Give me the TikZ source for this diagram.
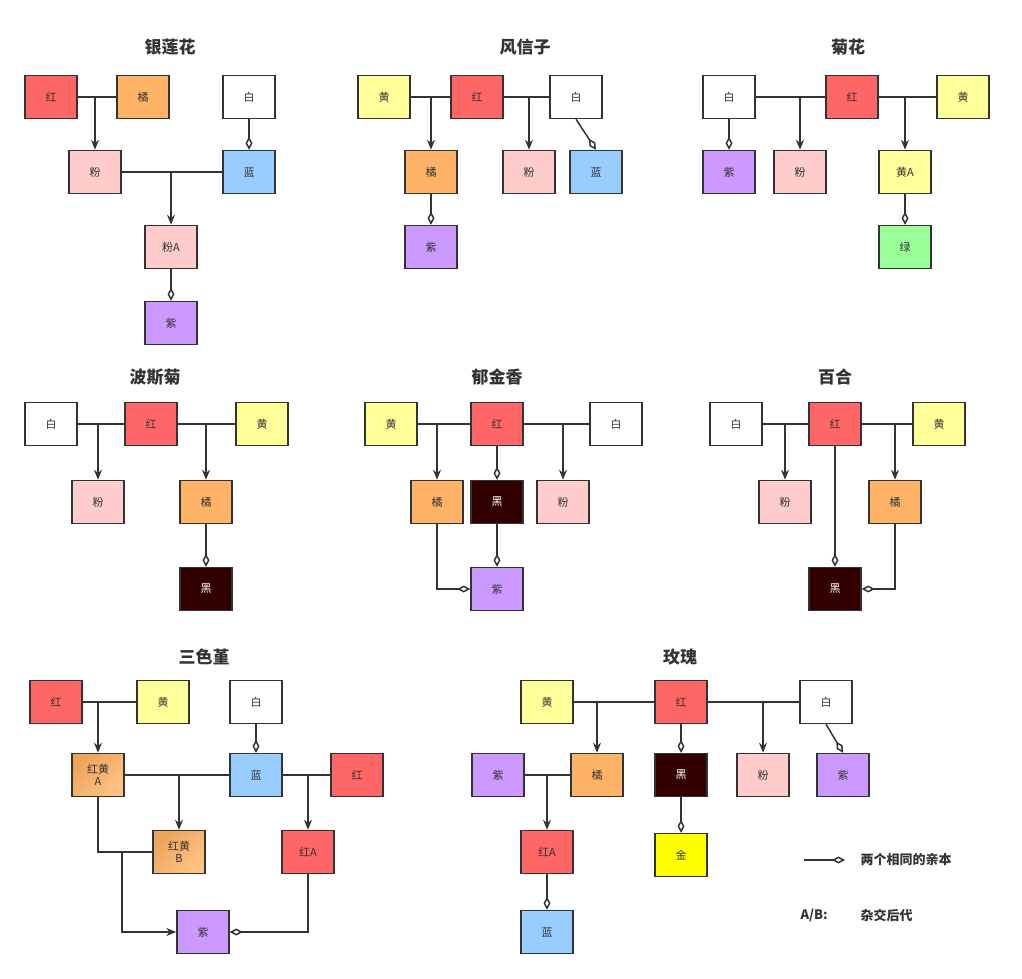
\documentclass[tikz,border=0pt]{standalone}
\usepackage{fontspec}
\setmainfont{Noto Sans CJK SC}
\usepackage{xcolor}
\usetikzlibrary{arrows.meta,shadings}
\definecolor{cRed}{HTML}{FF6666}
\definecolor{cOra}{HTML}{FFB366}
\definecolor{cYel}{HTML}{FFFF99}
\definecolor{cPnk}{HTML}{FFCCCC}
\definecolor{cBlu}{HTML}{99CCFF}
\definecolor{cPur}{HTML}{CC99FF}
\definecolor{cBlk}{HTML}{330000}
\definecolor{cGrn}{HTML}{99FF99}
\definecolor{cGld}{HTML}{FFFF00}
\definecolor{cLine}{HTML}{333333}
\tikzset{
  box/.style={draw=cLine, line width=1.5pt, minimum width=52pt, minimum height=43pt,
    inner sep=0pt, font=\fontsize{11}{12}\selectfont, text=cLine, align=center},
  red/.style={box, fill=cRed}, ora/.style={box, fill=cOra}, yel/.style={box, fill=cYel},
  pnk/.style={box, fill=cPnk}, blu/.style={box, fill=cBlu}, pur/.style={box, fill=cPur},
  blk/.style={box, fill=cBlk, text=white}, grn/.style={box, fill=cGrn},
  gld/.style={box, fill=cGld}, wht/.style={box, fill=white},
  mix/.style={box, left color=cOra!70!brown, right color=cOra!80!white, shading angle=45},
  title/.style={font=\fontsize{17}{18}\selectfont\bfseries, text=cLine},
  par/.style={draw=cLine, line width=1.5pt, -{Stealth[length=10pt,width=8pt]}},
  same/.style={draw=cLine, line width=1.5pt, -{Diamond[open,length=13pt,width=7pt]}},
  ln/.style={draw=cLine, line width=1.5pt}
}
\begin{document}
\begin{tikzpicture}[x=1pt, y=-1pt]
\useasboundingbox (0,0) rectangle (1022,979);
% silver lotus
\node[title] at (170,47) {银莲花};
\node[red] (yl-r) at (51,97) {红};
\node[ora] (yl-o) at (143,97) {橘};
\node[wht] (yl-w) at (249,97) {白};
\node[pnk] (yl-p) at (95,172) {粉};
\node[blu] (yl-b) at (249,172) {蓝};
\node[pnk] (yl-pa) at (171,247) {粉A};
\node[pur] (yl-v) at (171,323) {紫};
\draw[ln] (yl-r) -- (yl-o);
\draw[par] (yl-r -| yl-p) -- (yl-p);
\draw[ln] (yl-p) -- (yl-b);
\draw[par] (yl-p -| yl-pa) -- (yl-pa);
\draw[same] (yl-w) -- (yl-b);
\draw[same] (yl-pa) -- (yl-v);
% hyacinth
\node[title] at (525,47) {风信子};
\node[yel] (fx-y) at (384,97) {黄};
\node[red] (fx-r) at (477,97) {红};
\node[wht] (fx-w) at (576,97) {白};
\node[ora] (fx-o) at (431,172) {橘};
\node[pnk] (fx-p) at (529,172) {粉};
\node[blu] (fx-b) at (596,172) {蓝};
\node[pur] (fx-v) at (431,247) {紫};
\draw[ln] (fx-y) -- (fx-r) -- (fx-w);
\draw[par] (fx-y -| fx-o) -- (fx-o);
\draw[par] (fx-r -| fx-p) -- (fx-p);
\draw[same] (fx-w.south) -- (fx-b.north);
\draw[same] (fx-o) -- (fx-v);
% chrysanthemum
\node[title] at (848,47) {菊花};
\node[wht] (jh-w) at (729,97) {白};
\node[red] (jh-r) at (852,97) {红};
\node[yel] (jh-y) at (963,97) {黄};
\node[pur] (jh-v) at (729,172) {紫};
\node[pnk] (jh-p) at (800,172) {粉};
\node[yel] (jh-ya) at (905,172) {黄A};
\node[grn] (jh-g) at (905,247) {绿};
\draw[ln] (jh-w) -- (jh-r) -- (jh-y);
\draw[same] (jh-w) -- (jh-v);
\draw[par] (jh-w -| jh-p) -- (jh-p);
\draw[par] (jh-r -| jh-ya) -- (jh-ya);
\draw[same] (jh-ya) -- (jh-g);
% cosmos
\node[title] at (155,377) {波斯菊};
\node[wht] (bs-w) at (51,424) {白};
\node[red] (bs-r) at (151,424) {红};
\node[yel] (bs-y) at (262,424) {黄};
\node[pnk] (bs-p) at (98,502) {粉};
\node[ora] (bs-o) at (206,502) {橘};
\node[blk] (bs-k) at (206,589) {黑};
\draw[ln] (bs-w) -- (bs-r) -- (bs-y);
\draw[par] (bs-w -| bs-p) -- (bs-p);
\draw[par] (bs-r -| bs-o) -- (bs-o);
\draw[same] (bs-o) -- (bs-k);
% tulip
\node[title] at (497,377) {郁金香};
\node[yel] (yj-y) at (391,424) {黄};
\node[red] (yj-r) at (497,424) {红};
\node[wht] (yj-w) at (616,424) {白};
\node[ora] (yj-o) at (437,502) {橘};
\node[blk] (yj-k) at (497,502) {黑};
\node[pnk] (yj-p) at (563,502) {粉};
\node[pur] (yj-v) at (497,589) {紫};
\draw[ln] (yj-y) -- (yj-r) -- (yj-w);
\draw[par] (yj-y -| yj-o) -- (yj-o);
\draw[par] (yj-r -| yj-p) -- (yj-p);
\draw[same] (yj-r) -- (yj-k);
\draw[same] (yj-k) -- (yj-v);
\draw[same] (yj-o.south) |- (yj-v.west);
% lily
\node[title] at (835,377) {百合};
\node[wht] (bh-w) at (736,424) {白};
\node[red] (bh-r) at (835,424) {红};
\node[yel] (bh-y) at (939,424) {黄};
\node[pnk] (bh-p) at (785,502) {粉};
\node[ora] (bh-o) at (895,502) {橘};
\node[blk] (bh-k) at (835,589) {黑};
\draw[ln] (bh-w) -- (bh-r) -- (bh-y);
\draw[par] (bh-w -| bh-p) -- (bh-p);
\draw[par] (bh-r -| bh-o) -- (bh-o);
\draw[same] (bh-r) -- (bh-k);
\draw[same] (bh-o.south) |- (bh-k.east);
% pansy
\node[title] at (204,657) {三色堇};
\node[red] (sj-r) at (56,702) {红};
\node[yel] (sj-y) at (163,702) {黄};
\node[wht] (sj-w) at (256,702) {白};
\node[mix] (sj-a) at (98,775) {红黄\\A};
\node[blu] (sj-b) at (256,775) {蓝};
\node[red] (sj-r2) at (357,775) {红};
\node[mix] (sj-c) at (179,852) {红黄\\B};
\node[red] (sj-ra) at (308,852) {红A};
\node[pur] (sj-v) at (203,932) {紫};
\coordinate (sj-j) at (122,852);
\draw[ln] (sj-r) -- (sj-y);
\draw[par] (sj-r -| sj-a) -- (sj-a);
\draw[same] (sj-w) -- (sj-b);
\draw[ln] (sj-a) -- (sj-b) -- (sj-r2);
\draw[par] (sj-a -| sj-c) -- (sj-c);
\draw[par] (sj-b -| sj-ra) -- (sj-ra);
\draw[ln] (sj-a.south) |- (sj-c.west);
\draw[par] (sj-j) |- (sj-v.west);
\draw[same] (sj-ra.south) |- (sj-v.east);
% rose
\node[title] at (680,657) {玫瑰};
\node[yel] (mg-y) at (547,702) {黄};
\node[red] (mg-r) at (681,702) {红};
\node[wht] (mg-w) at (826,702) {白};
\node[pur] (mg-v) at (498,775) {紫};
\node[ora] (mg-o) at (597,775) {橘};
\node[blk] (mg-k) at (681,775) {黑};
\node[pnk] (mg-p) at (763,775) {粉};
\node[pur] (mg-v2) at (843,775) {紫};
\node[red] (mg-ra) at (547,852) {红A};
\node[gld] (mg-g) at (681,855) {金};
\node[blu] (mg-b) at (547,932) {蓝};
\draw[ln] (mg-y) -- (mg-r) -- (mg-w);
\draw[par] (mg-y -| mg-o) -- (mg-o);
\draw[par] (mg-r -| mg-p) -- (mg-p);
\draw[same] (mg-w.south) -- (mg-v2.north);
\draw[same] (mg-r) -- (mg-k);
\draw[same] (mg-k) -- (mg-g);
\draw[ln] (mg-v) -- (mg-o);
\draw[par] (mg-v -| mg-ra) -- (mg-ra);
\draw[same] (mg-ra) -- (mg-b);
% legend
\coordinate (lg-a) at (804,860);
\coordinate (lg-b) at (845,860);
\draw[same] (lg-a) -- (lg-b);
\node[title, font=\fontsize{13}{14}\selectfont\bfseries, anchor=west] (lg-t1) at (857,860) {两个相同的亲本};
\node[title, font=\fontsize{13}{14}\selectfont\bfseries, anchor=west] (lg-t2) at (797,915) {A/B:};
\node[title, font=\fontsize{13}{14}\selectfont\bfseries, anchor=west] (lg-t3) at (857,915) {杂交后代};
\end{tikzpicture}
\end{document}
